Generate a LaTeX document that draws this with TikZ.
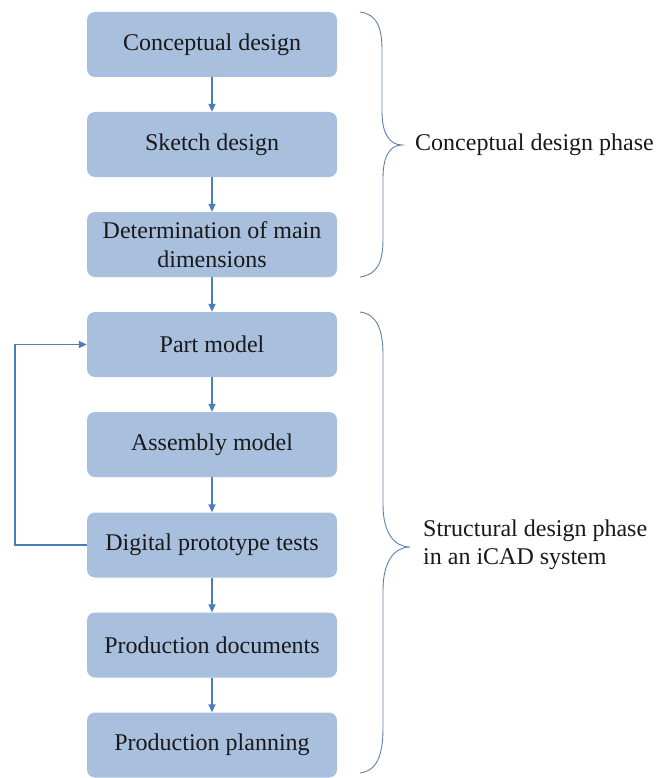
\documentclass[tikz,border=0pt]{standalone}
\usepackage{fontspec}
\setmainfont{Liberation Serif}
\usetikzlibrary{arrows.meta}
\definecolor{boxfill}{RGB}{168,192,222}
\definecolor{arrowcol}{RGB}{74,126,187}
\definecolor{bracecol}{RGB}{95,128,168}
\tikzset{
  stepbox/.style={fill=boxfill, rounded corners=8pt, minimum width=250pt, minimum height=65pt,
    inner sep=0pt, align=center, font=\fontsize{24}{29}\selectfont, text=black!90},
  flow/.style={draw=arrowcol, line width=1.7pt, -{Triangle[length=8pt,width=7pt]}},
  bracestyle/.style={draw=bracecol, line width=0.9pt},
  phaselabel/.style={anchor=west, align=left, inner sep=0pt, font=\fontsize{24}{28}\selectfont, text=black!90}
}
\begin{document}
\begin{tikzpicture}[x=1pt,y=-1pt]
\useasboundingbox (0,0) rectangle (659,778);
\node[stepbox] (b1) at (212,44.5) {Conceptual design};
\node[stepbox] (b2) at (212,144.5) {Sketch design};
\node[stepbox] (b3) at (212,244.5) {Determination of main\\dimensions};
\node[stepbox] (b4) at (212,344.5) {Part model};
\node[stepbox] (b5) at (212,444.5) {Assembly model};
\node[stepbox] (b6) at (212,545) {Digital prototype tests};
\node[stepbox] (b7) at (212,645) {Production documents};
\node[stepbox] (b8) at (212,745) {Production planning};
\foreach \a/\b in {b1/b2,b2/b3,b3/b4,b4/b5,b5/b6,b6/b7,b7/b8}
  \draw[flow] (\a.south) -- (\b.north);
\coordinate (fbl) at (15,545);
\coordinate (fbu) at (15,344.5);
\draw[flow] (b6.west) -- (fbl) -- (fbu) -- (b4.west);
% braces
\draw[bracestyle] (360,12) .. controls (377,14) and (382,28) .. (382,50) -- (382,112)
  .. controls (382,134) and (390,145) .. (402,145)
  .. controls (390,145) and (383,156) .. (383,178) -- (383,240)
  .. controls (383,262) and (377,275) .. (360,277);
\draw[bracestyle] (360,312) .. controls (377,314) and (383,330) .. (383,355) -- (383,505)
  .. controls (383,532) and (394,547) .. (410,547)
  .. controls (394,547) and (383,562) .. (383,590) -- (383,728)
  .. controls (383,755) and (377,771) .. (360,773);
\node[phaselabel] (l1) at (415,145) {Conceptual design phase};
\node[phaselabel] (l2) at (423,545) {Structural design phase\\in an iCAD system};
\end{tikzpicture}
\end{document}
